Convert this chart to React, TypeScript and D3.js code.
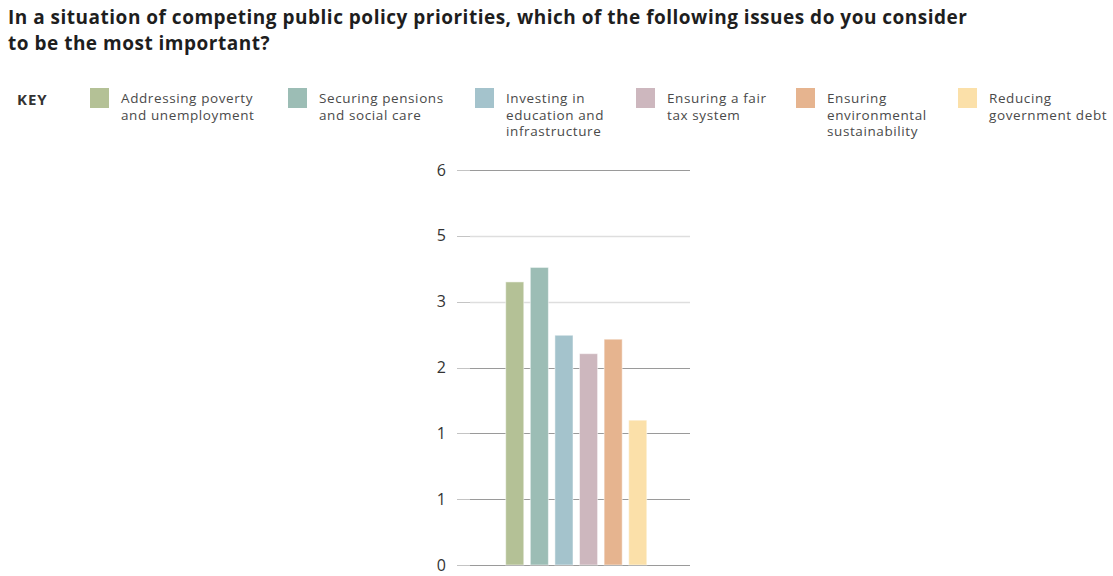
import React from "react";
import * as d3 from "d3";

const categories = [
  "Addressing poverty and unemployment",
  "Securing pensions and social care",
  "Investing in education and infrastructure",
  "Ensuring a fair tax system",
  "Ensuring environmental sustainability",
  "Reducing government debt",
];
const values = [4.3, 4.52, 3.49, 3.21, 3.43, 2.2];
const colors = ["#b4c196", "#9cbdb5", "#a4c3cc", "#cdb7be", "#e6b48f", "#fbe0a9"];
const legendLines = [
  ["Addressing poverty", "and unemployment"],
  ["Securing pensions", "and social care"],
  ["Investing in", "education and", "infrastructure"],
  ["Ensuring a fair", "tax system"],
  ["Ensuring", "environmental", "sustainability"],
  ["Reducing", "government debt"],
];
const tickValues = [0, 1, 2, 3, 4, 5, 6];
const tickLabels = ["0", "1", "1", "2", "3", "5", "6"];
const title = [
  "In a situation of competing public policy priorities, which of the following issues do you consider",
  "to be the most important?",
];

const FONT = "'Open Sans', sans-serif";

export default function App() {
  const W = 1113;
  const H = 576;
  const y = d3.scaleLinear().domain([0, 6]).range([565, 170]);
  const x = d3
    .scaleBand<string>()
    .domain(categories)
    .range([502.5, 650])
    .paddingInner(0.265)
    .paddingOuter(0.13);
  const legendX = d3
    .scaleOrdinal<string, number>()
    .domain(categories)
    .range([90, 288, 475, 636, 796, 958]);
  const lightTicks = new Set([4, 5]);

  return (
    <svg
      width={W}
      height={H}
      style={{ position: "absolute", left: 0, top: 0, background: "#fff" }}
      fontFamily={FONT}
    >
      {title.map((t, i) => (
        <text
          key={i}
          x={8}
          y={24 + i * 26}
          fontSize={19}
          letterSpacing={0.5}
          fontWeight={700}
          fill="#1e1e1e"
        >
          {t}
        </text>
      ))}
      <text x={17} y={105} fontSize={15} fontWeight={700} letterSpacing={1} fill="#333">
        KEY
      </text>
      {categories.map((c, i) => {
        const lx = legendX(c);
        return (
          <g key={c}>
            <rect x={lx} y={88} width={19} height={20} fill={colors[i]} />
            {legendLines[i].map((l, j) => (
              <text
                key={j}
                x={lx + 31}
                y={103 + j * 16.5}
                fontSize={13.5}
                letterSpacing={0.6}
                fill="#4a4a4a"
              >
                {l}
              </text>
            ))}
          </g>
        );
      })}
      {tickValues.map((t, i) => {
        const yy = Math.round(y(t)) + 0.5;
        const light = lightTicks.has(i);
        return (
          <g key={i}>
            <line x1={457} x2={470} y1={yy} y2={yy} stroke="#c4c4c4" strokeWidth={1} />
            <line
              x1={470}
              x2={690}
              y1={yy}
              y2={yy}
              stroke={light ? "#dedede" : "#9a9a9a"}
              strokeWidth={light ? 1.5 : 1.2}
            />
            <text
              x={446}
              y={y(t)}
              dy="0.35em"
              textAnchor="end"
              fontSize={16}
              fill="#333"
            >
              {tickLabels[i]}
            </text>
          </g>
        );
      })}
      {categories.map((c, i) => (
        <rect
          key={c}
          x={x(c)}
          y={y(values[i])}
          width={x.bandwidth()}
          height={y(0) - y(values[i])}
          fill={colors[i]}
          stroke="#ffffff"
          strokeOpacity={0.5}
          strokeWidth={1}
        />
      ))}
    </svg>
  );
}
